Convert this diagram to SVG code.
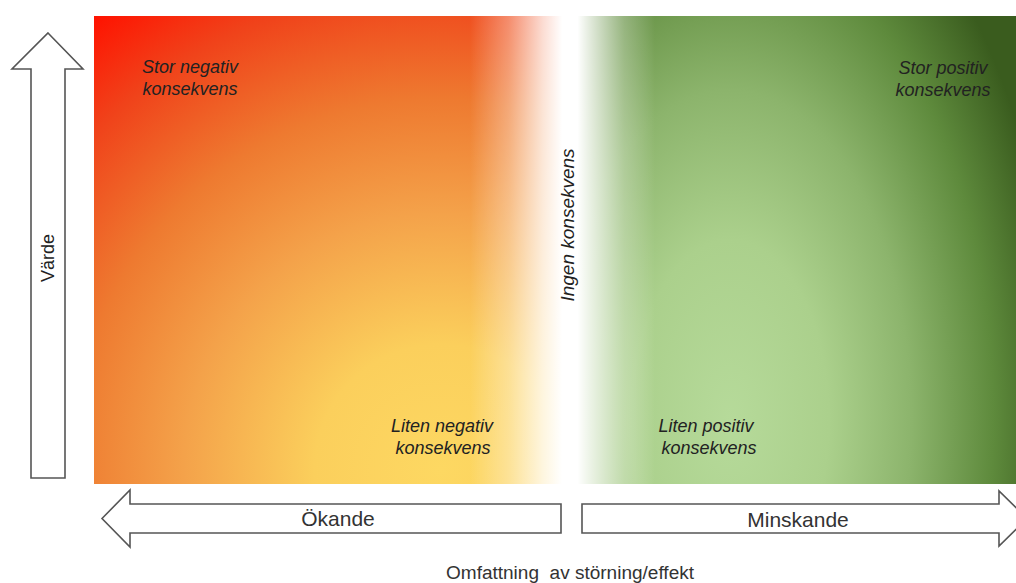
<svg xmlns="http://www.w3.org/2000/svg" width="1016" height="583" viewBox="0 0 1016 583">
<style>
.lbl{font-family:"Liberation Sans",Arial,sans-serif;font-style:italic;font-size:18px;fill:#222;text-anchor:middle}
.ax{font-family:"Liberation Sans",Arial,sans-serif;font-size:21px;fill:#333;text-anchor:middle}
.arrow{fill:#fff;stroke:#555;stroke-width:1.6;stroke-linejoin:miter}
</style>
<defs>
<radialGradient id="neg" gradientUnits="userSpaceOnUse" cx="440" cy="470" r="570">
<stop offset="0" stop-color="#fdd862"/>
<stop offset="0.22" stop-color="#fbcf5c"/>
<stop offset="0.45" stop-color="#f4a24a"/>
<stop offset="0.65" stop-color="#ee7a30"/>
<stop offset="0.85" stop-color="#f0421a"/>
<stop offset="1" stop-color="#ff1200"/>
</radialGradient>
<linearGradient id="negFade" gradientUnits="userSpaceOnUse" x1="470" y1="0" x2="567" y2="0">
<stop offset="0" stop-color="#fff" stop-opacity="0"/>
<stop offset="0.4" stop-color="#fff" stop-opacity="0.35"/>
<stop offset="0.75" stop-color="#fff" stop-opacity="0.8"/>
<stop offset="0.95" stop-color="#fff" stop-opacity="1"/>
<stop offset="1" stop-color="#fff" stop-opacity="1"/>
</linearGradient>
<radialGradient id="pos" gradientUnits="userSpaceOnUse" cx="0" cy="0" r="1" gradientTransform="translate(730 420) scale(330 600)">
<stop offset="0" stop-color="#b6da9a"/>
<stop offset="0.3" stop-color="#abd08c"/>
<stop offset="0.55" stop-color="#8cb46c"/>
<stop offset="0.8" stop-color="#5e8a3c"/>
<stop offset="1" stop-color="#3a5c1e"/>
</radialGradient>
<linearGradient id="posFade" gradientUnits="userSpaceOnUse" x1="567" y1="0" x2="655" y2="0">
<stop offset="0" stop-color="#fff" stop-opacity="1"/>
<stop offset="0.12" stop-color="#fff" stop-opacity="1"/>
<stop offset="0.35" stop-color="#fff" stop-opacity="0.7"/>
<stop offset="0.65" stop-color="#fff" stop-opacity="0.3"/>
<stop offset="1" stop-color="#fff" stop-opacity="0"/>
</linearGradient>
</defs>
<rect x="0" y="0" width="1016" height="583" fill="#fff"/>
<g id="field">
<rect x="94" y="16" width="474" height="468" fill="url(#neg)"/>
<rect x="94" y="16" width="474" height="468" fill="url(#negFade)"/>
<rect x="567" y="16" width="449" height="468" fill="url(#pos)"/>
<rect x="567" y="16" width="449" height="468" fill="url(#posFade)"/>
</g>
<g id="connectors">
<polygon id="arrow-varde" class="arrow" points="48,33 83,69 65,69 65,478 31,478 31,69 12,69"/>
<polygon id="arrow-okande" class="arrow" points="102,518.5 130,490 130,504 561,504 561,533 130,533 130,547"/>
<polygon id="arrow-minskande" class="arrow" points="582,504 999,504 999,491 1027,518.5 999,546 999,533 582,533"/>
</g>
<g id="node-stor-negativ">
<text class="lbl" x="190" y="73">Stor negativ</text>
<text class="lbl" x="190" y="95">konsekvens</text>
</g>
<g id="node-stor-positiv">
<text class="lbl" x="943" y="74">Stor positiv</text>
<text class="lbl" x="943" y="96">konsekvens</text>
</g>
<g id="node-liten-negativ">
<text class="lbl" x="442" y="432">Liten negativ</text>
<text class="lbl" x="443" y="454">konsekvens</text>
</g>
<g id="node-liten-positiv">
<text class="lbl" x="706" y="432">Liten positiv</text>
<text class="lbl" x="709" y="454">konsekvens</text>
</g>
<g id="node-ingen">
<text class="lbl" transform="translate(574 225) rotate(-90)" style="font-size:19px">Ingen konsekvens</text>
</g>
<g id="node-varde">
<text class="ax" transform="translate(54 258) rotate(-90)" style="font-size:18px;fill:#222">Värde</text>
</g>
<g id="node-okande">
<text class="ax" x="338" y="526">Ökande</text>
</g>
<g id="node-minskande">
<text class="ax" x="798" y="527">Minskande</text>
</g>
<g id="node-omfattning">
<text x="446" y="579" textLength="248" lengthAdjust="spacingAndGlyphs" style="font-family:'Liberation Sans',Arial,sans-serif;font-size:18px;fill:#333">Omfattning&#160; av störning/effekt</text>
</g>
</svg>
